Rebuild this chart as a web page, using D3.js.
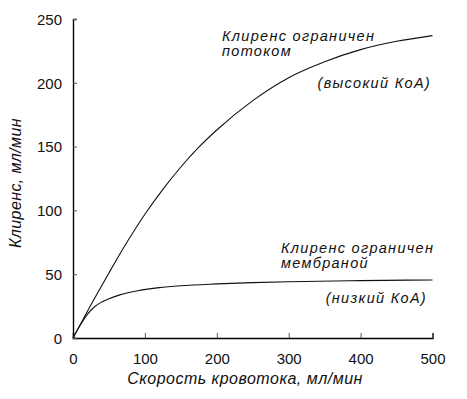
<!DOCTYPE html>
<html>
<head>
<meta charset="utf-8">
<script src="https://d3js.org/d3.v7.min.js"></script>
<style>
  body { margin: 0; background: #fff; }
  text { font-family: "Liberation Sans", Arial, sans-serif; fill: #111; }
</style>
</head>
<body>
<script>
// flow-limited curve (high KoA)
var flowQ  = [0, 25, 50, 75, 100, 125, 150, 175, 200, 250, 300, 350, 400, 450, 500];
var flowCl = [0, 26, 51, 75, 97, 116.5, 134, 149.5, 163, 186, 204, 216.5, 226, 232.5, 237];
// membrane-limited curve (low KoA)
var membQ  = [0, 10, 20, 30, 40, 50, 65, 90, 120, 150, 200, 250, 300, 400, 500];
var membCl = [0, 10, 18.5, 24.5, 28.2, 30.8, 33.8, 37, 39.5, 41, 42.4, 43.4, 44.1, 45, 45.5];
var xTicks = [0, 100, 200, 300, 400, 500];
var yTicks = [0, 50, 100, 150, 200, 250];

var margin = {top: 19, right: 34.5, bottom: 61, left: 73},
    width = 467 - margin.left - margin.right,
    height = 399 - margin.top - margin.bottom;

var svg = d3.select("body")
  .append("svg")
    .attr("width", 467)
    .attr("height", 399)
  .append("g")
    .attr("transform", "translate(" + margin.left + "," + margin.top + ")");

var x = d3.scaleLinear().domain([0, 500]).range([0, width]);
var y = d3.scaleLinear().domain([0, 250]).range([height, 0]);

// axes, ticks point inward
var xAxis = svg.append("g")
  .attr("transform", "translate(0," + height + ")")
  .call(d3.axisBottom(x).tickValues(xTicks).tickSize(-5).tickPadding(15));
var yAxis = svg.append("g")
  .call(d3.axisLeft(y).tickValues(yTicks).tickSize(-4).tickPadding(11));

[xAxis, yAxis].forEach(function(a) {
  a.select(".domain").attr("stroke", "#000").attr("stroke-width", 1.4);
  a.selectAll(".tick line").attr("stroke", "#555");
  a.selectAll(".tick text")
    .style("font-size", "15px")
    .style("font-family", "Liberation Sans, Arial, sans-serif")
    .attr("fill", "#222");
});
yAxis.selectAll(".tick text").attr("dy", "0.35em");

var line = d3.line()
  .x(function(d) { return x(d[0]); })
  .y(function(d) { return y(d[1]); })
  .curve(d3.curveMonotoneX);

svg.append("path")
  .datum(d3.zip(flowQ, flowCl))
  .attr("fill", "none")
  .attr("stroke", "#111")
  .attr("stroke-width", 1.1)
  .attr("d", line);

svg.append("path")
  .datum(d3.zip(membQ, membCl))
  .attr("fill", "none")
  .attr("stroke", "#111")
  .attr("stroke-width", 1.1)
  .attr("d", line);

// annotations
function note(px, py, lines, anchor) {
  var t = svg.append("text")
    .attr("x", px).attr("y", py)
    .attr("text-anchor", anchor || "start")
    .style("font-size", "14.5px")
    .style("letter-spacing", "1.3px")
    .style("font-style", "italic");
  lines.forEach(function(s, i) {
    t.append("tspan").attr("x", px).attr("dy", i ? 15 : 0).text(s);
  });
}
note(222 - margin.left, 41 - margin.top, ["Клиренс ограничен", "потоком"]);
note(431 - margin.left, 88 - margin.top, ["(высокий КоА)"], "end");
note(281 - margin.left, 253 - margin.top, ["Клиренс ограничен", "мембраной"]);
note(427 - margin.left, 303 - margin.top, ["(низкий КоА)"], "end");

// axis labels
svg.append("text")
  .attr("text-anchor", "middle")
  .attr("x", 245 - margin.left)
  .attr("y", height + 46)
  .style("font-size", "16px")
  .style("letter-spacing", "0.5px")
  .style("font-style", "italic")
  .text("Скорость кровотока, мл/мин");

svg.append("text")
  .attr("text-anchor", "middle")
  .attr("transform", "rotate(-90)")
  .attr("x", -(183 - margin.top))
  .attr("y", -margin.left + 21)
  .style("font-size", "16px")
  .style("letter-spacing", "0.4px")
  .style("font-style", "italic")
  .text("Клиренс, мл/мин");
</script>
</body>
</html>
